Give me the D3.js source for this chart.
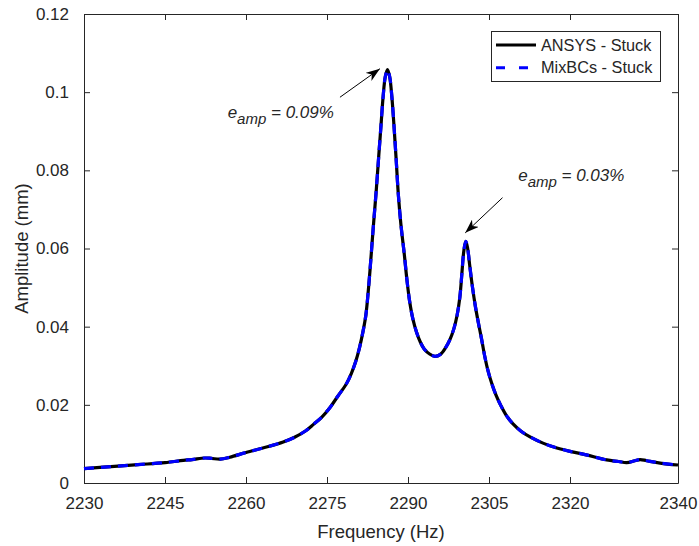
<!DOCTYPE html>
<html><head><meta charset="utf-8">
<script src="https://cdn.jsdelivr.net/npm/d3@7"></script>
<style>
html,body{margin:0;padding:0;background:#fff;}
text{font-family:"Liberation Sans",Arial,Helvetica,sans-serif;fill:#262626;}
</style></head>
<body><svg id="c" width="699" height="546"></svg>
<script>
// ---- data ----
const freq = [2230,2235,2240,2245,2248.4,2250,2252.4,2253.6,2255.2,2257,2260,2263.8,2266.9,2269,2271,2272.5,2274,2275.6,2277,2278.6,2279.5,2280.3,2281,2281.7,2282.2,2282.7,2283.2,2283.6,2284.1,2284.6,2285,2285.4,2285.8,2286.2,2286.6,2287,2287.4,2287.8,2288.2,2288.7,2289.3,2289.8,2290.3,2290.9,2291.6,2292.3,2293,2294,2295,2296,2297,2297.8,2298.5,2299.1,2299.6,2300,2300.35,2300.7,2301.05,2301.4,2301.9,2302.5,2303.1,2303.6,2304.2,2304.8,2305.5,2306.3,2307.2,2308.2,2309.4,2311,2312.6,2315,2317,2320,2323,2326.8,2329,2330.5,2332,2333,2334.2,2336.7,2340];
const ansys = [0.0037,0.0042,0.0047,0.0052,0.0058,0.0060,0.0064,0.0063,0.0061,0.0066,0.0078,0.0092,0.0105,0.0117,0.0133,0.0150,0.0168,0.0194,0.0222,0.0254,0.0280,0.0310,0.0345,0.0390,0.0430,0.0500,0.0587,0.0660,0.0745,0.0840,0.0915,0.0990,0.1040,0.1058,0.1040,0.0990,0.0915,0.0830,0.0740,0.0660,0.0587,0.0520,0.0465,0.0420,0.0385,0.0360,0.0343,0.0330,0.0324,0.0329,0.0347,0.0368,0.0395,0.0430,0.0475,0.0540,0.0595,0.0618,0.0600,0.0560,0.0505,0.0450,0.0405,0.0370,0.0325,0.0288,0.0255,0.0225,0.0198,0.0173,0.0152,0.0132,0.0118,0.0102,0.0092,0.0081,0.0072,0.0059,0.0055,0.0052,0.0057,0.0060,0.0057,0.0051,0.0046];
const mixbcs = [0.0037,0.0042,0.0047,0.0052,0.0058,0.0060,0.0064,0.0063,0.0061,0.0066,0.0078,0.0092,0.0105,0.0117,0.0133,0.0150,0.0168,0.0194,0.0222,0.0254,0.0280,0.0310,0.0345,0.0390,0.0430,0.0500,0.0587,0.0660,0.0745,0.0840,0.0915,0.0990,0.1040,0.1057,0.1040,0.0990,0.0915,0.0830,0.0740,0.0660,0.0587,0.0520,0.0465,0.0420,0.0385,0.0360,0.0343,0.0330,0.0324,0.0329,0.0347,0.0368,0.0395,0.0430,0.0475,0.0540,0.0595,0.0618,0.0600,0.0560,0.0505,0.0450,0.0405,0.0370,0.0325,0.0288,0.0255,0.0225,0.0198,0.0173,0.0152,0.0132,0.0118,0.0102,0.0092,0.0081,0.0072,0.0059,0.0055,0.0052,0.0057,0.0060,0.0057,0.0051,0.0046];
const xTicks = [2230,2245,2260,2275,2290,2305,2320,2340];
const yTicks = [0,0.02,0.04,0.06,0.08,0.1,0.12];
const yTickLabels = ["0","0.02","0.04","0.06","0.08","0.1","0.12"];
const seriesNames = ["ANSYS - Stuck","MixBCs - Stuck"];
const annotations = [
  {text:"0.09%", tip:[2284.8,0.1060], tail:[2277.4,0.0987], label:[2256.6,0.0935]},
  {text:"0.03%", tip:[2300.6,0.0640], tail:[2307.5,0.0730], label:[2310.4,0.0772]}
];

// ---- layout ----
const svg = d3.select("#c");
const L=84, R=678, T=14, B=483;
const x = d3.scaleLinear().domain([2230,2340]).range([L,R]);
const y = d3.scaleLinear().domain([0,0.12]).range([B,T]);
const axCol = "#262626";

const xb = svg.append("g").attr("transform",`translate(0,${B})`)
  .call(d3.axisBottom(x).tickValues(xTicks).tickSizeInner(-6).tickSizeOuter(0).tickPadding(14).tickFormat(d3.format("d")));
const xt = svg.append("g").attr("transform",`translate(0,${T})`)
  .call(d3.axisTop(x).tickValues(xTicks).tickSizeInner(-6).tickSizeOuter(0).tickFormat(""));
const yl = svg.append("g").attr("transform",`translate(${L},0)`)
  .call(d3.axisLeft(y).tickValues(yTicks).tickSizeInner(-6).tickSizeOuter(0).tickPadding(15).tickFormat((d,i)=>yTickLabels[i]));
const yr = svg.append("g").attr("transform",`translate(${R},0)`)
  .call(d3.axisRight(y).tickValues(yTicks).tickSizeInner(-6).tickSizeOuter(0).tickFormat(""));
[xb,xt,yl,yr].forEach(g=>{
  g.selectAll("path").attr("stroke",axCol).attr("stroke-width",1);
  g.selectAll("line").attr("stroke",axCol);
  g.selectAll("text").attr("font-size",17).attr("fill",axCol).style("font-family","'Liberation Sans',Arial,sans-serif");
});
xb.selectAll("text").attr("dy","0.71em");

svg.append("text").attr("x",(L+R)/2).attr("y",538).attr("text-anchor","middle")
  .attr("font-size",18.5).text("Frequency (Hz)");
svg.append("text").attr("transform",`translate(28,${(T+B)/2}) rotate(-90)`).attr("text-anchor","middle")
  .attr("font-size",18.5).text("Amplitude (mm)");

const line = d3.line().x(d=>x(d[0])).y(d=>y(d[1])).curve(d3.curveCatmullRom.alpha(0.5));
svg.append("path").datum(freq.map((f,i)=>[f,ansys[i]])).attr("d",line)
  .attr("fill","none").attr("stroke","#000").attr("stroke-width",3.2).attr("stroke-linejoin","round");
svg.append("path").datum(freq.map((f,i)=>[f,mixbcs[i]])).attr("d",line)
  .attr("fill","none").attr("stroke","#0000ff").attr("stroke-width",3.2).attr("stroke-dasharray","10,7");

svg.append("defs").append("marker").attr("id","ah").attr("viewBox","0 0 14 10")
  .attr("refX",14).attr("refY",5).attr("markerWidth",14).attr("markerHeight",10)
  .attr("markerUnits","userSpaceOnUse").attr("orient","auto")
  .append("path").attr("d","M0,0 L14,5 L0,10 L4,5 Z").attr("fill","#000");
annotations.forEach(a=>{
  svg.append("line").attr("x1",x(a.tail[0])).attr("y1",y(a.tail[1]))
    .attr("x2",x(a.tip[0])).attr("y2",y(a.tip[1]))
    .attr("stroke","#000").attr("stroke-width",1).attr("marker-end","url(#ah)");
  const t = svg.append("text").attr("x",x(a.label[0])).attr("y",y(a.label[1]))
    .attr("font-size",17).attr("font-style","italic").attr("fill","#000");
  t.append("tspan").text("e");
  t.append("tspan").attr("dy",6).attr("font-size",15).text("amp");
  t.append("tspan").attr("dy",-6).text(" = "+a.text);
});

const lg = svg.append("g");
lg.append("rect").attr("x",491.5).attr("y",31.5).attr("width",169).attr("height",50)
  .attr("fill","#fff").attr("stroke",axCol).attr("stroke-width",1);
const styles=[{c:"#000",d:null},{c:"#0000ff",d:"9,14"}];
seriesNames.forEach((n,i)=>{
  const yy = 45+i*22.7;
  lg.append("line").attr("x1",496).attr("x2",536).attr("y1",yy).attr("y2",yy)
    .attr("stroke",styles[i].c).attr("stroke-width",3).attr("stroke-dasharray",styles[i].d);
  lg.append("text").attr("x",541).attr("y",yy).attr("dy","0.35em").attr("font-size",16.3).attr("fill","#000").text(n);
});
</script></body></html>
